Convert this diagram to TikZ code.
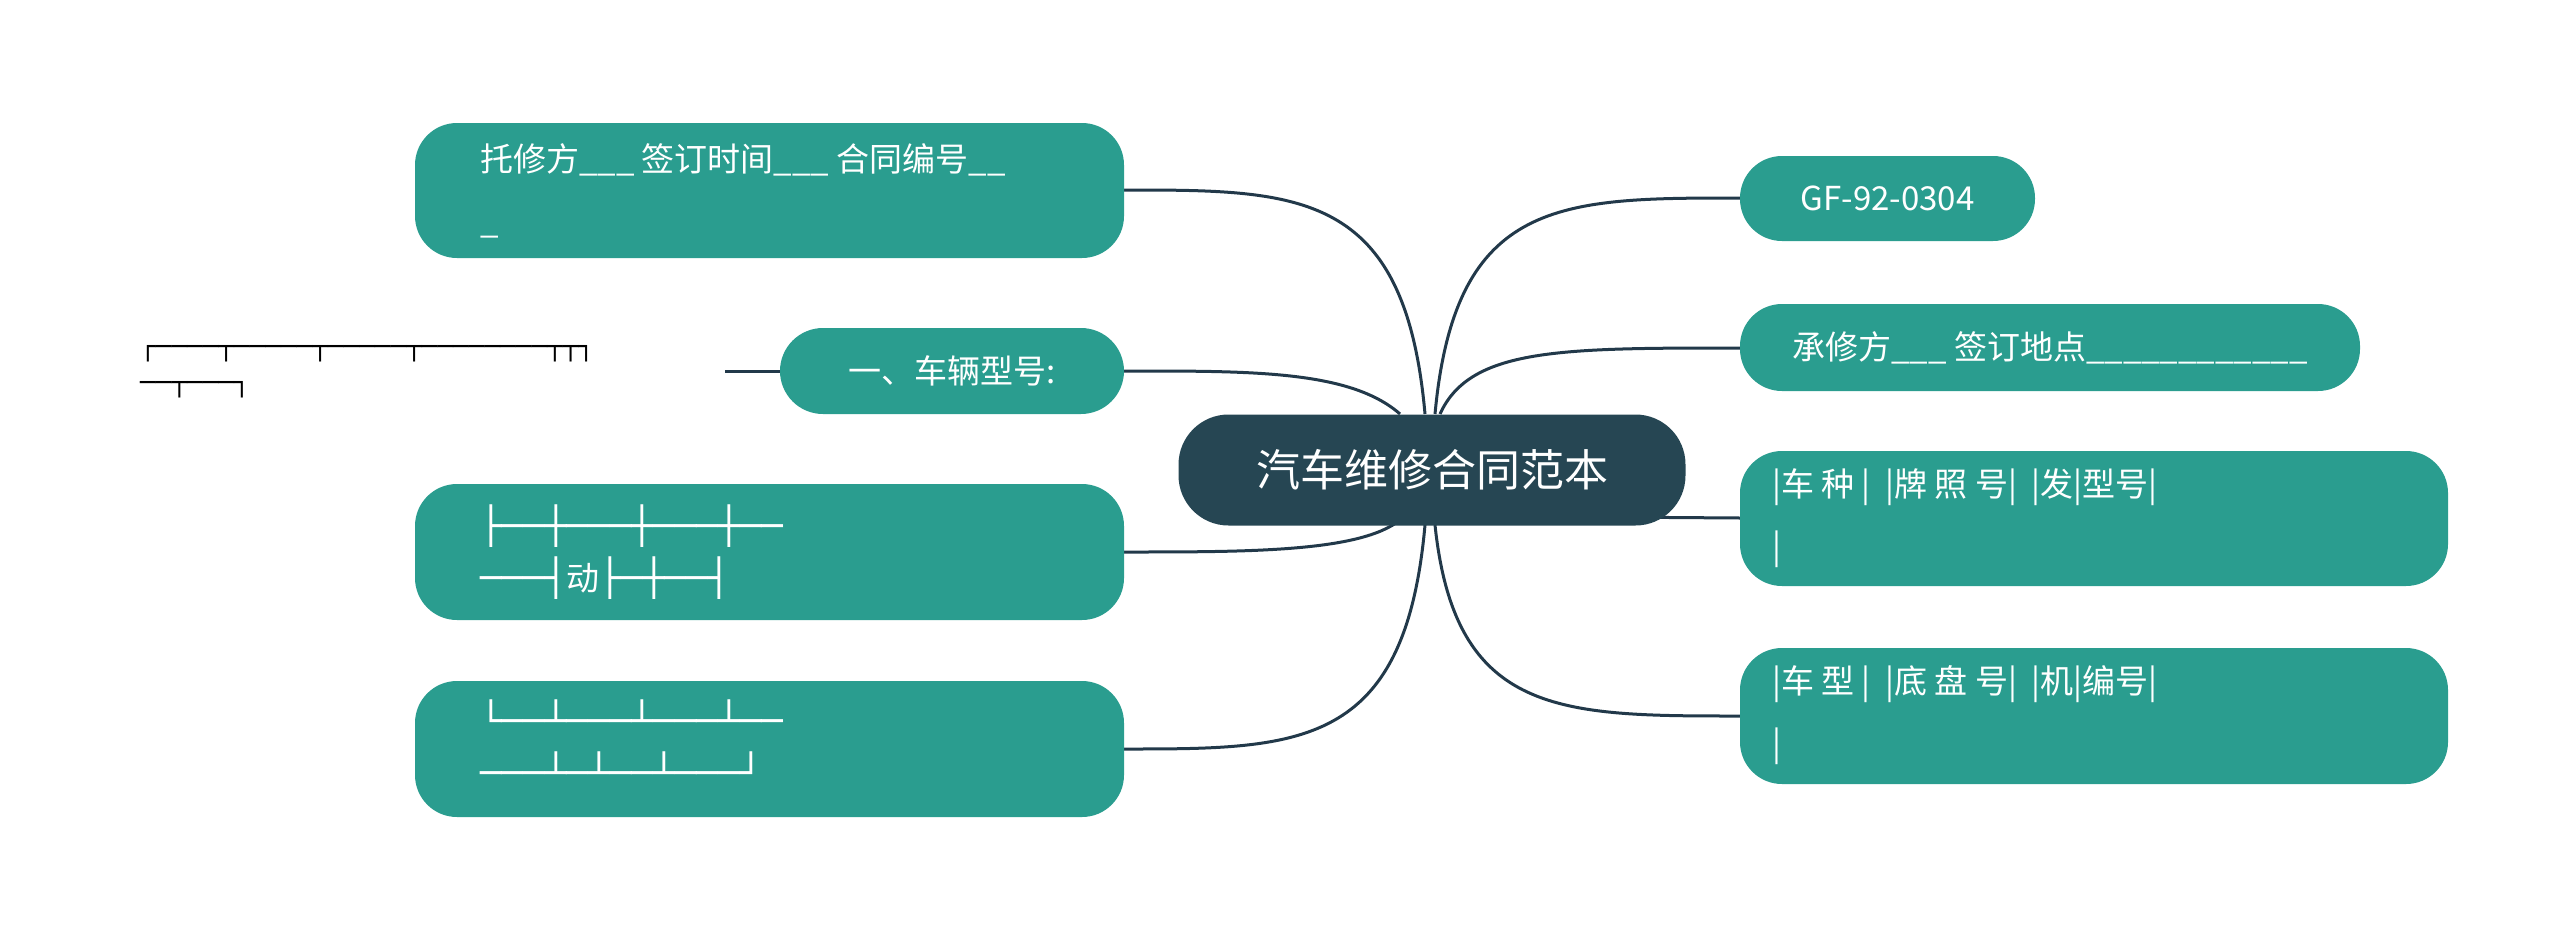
\documentclass[tikz,border=0pt]{standalone}
\usepackage{fontspec}
\setmainfont{Noto Sans CJK SC}
\newfontfamily\boxfont{DejaVu Sans Mono}
\definecolor{teal}{HTML}{2A9D8F}
\definecolor{dark}{HTML}{264653}
\definecolor{wire}{HTML}{22394A}
\begin{document}
\begin{tikzpicture}[x=1pt,y=-1pt,
  topic/.style={fill=teal,rounded corners=42pt,inner sep=0pt},
  lbl/.style={text=white,font=\fontsize{33}{62}\selectfont,align=left,anchor=north west,inner sep=0pt},
  wirel/.style={draw=wire,line width=3pt}]
\useasboundingbox (0,0) rectangle (2560,935);
% connectors
\coordinate (c) at (1430,470);
\draw[wirel] (1425,414) .. controls (1405,190) and (1300,190) .. (1124,190);
\draw[wirel] (1400,414) .. controls (1350,370) and (1250,371) .. (1124,371);
\draw[wirel] (1400,520) .. controls (1360,552) and (1250,552) .. (1124,552);
\draw[wirel] (1425,525) .. controls (1405,749) and (1300,749) .. (1124,749);
\draw[wirel] (1435,414) .. controls (1455,198) and (1560,198) .. (1740,198);
\draw[wirel] (1440,414) .. controls (1470,348) and (1560,348) .. (1740,348);
\draw[wirel] (1600,517) -- (1740,518);
\draw[wirel] (1435,525) .. controls (1455,716) and (1560,716) .. (1740,716);
% center
\node[fill=dark,rounded corners=50pt,minimum width=507pt,minimum height=111pt,text=white,font=\fontsize{44}{50}\selectfont] (ctr) at (1432,470) {汽车维修合同范本};
% left
\node[topic,minimum width=709pt,minimum height=135pt] (l1) at (769.5,190.5) {};
\node[lbl] (l1t) at (480,143) {托修方\_\_\_ 签订时间\_\_\_ 合同编号\_\_\\\_};
\node[topic,minimum width=344pt,minimum height=86pt,text=white,font=\fontsize{33}{40}\selectfont,rounded corners=43pt] (l2) at (952,371) {一、车辆型号:};
\node[topic,minimum width=709pt,minimum height=136pt] (l3) at (769.5,552) {};
\node[lbl,font=\fontsize{33}{52}\selectfont] (l3t) at (480,505) {{\boxfont\fontsize{36}{40}\selectfont ├──┼───┼───┼──}\\{\boxfont\fontsize{36}{40}\selectfont ───┤}动{\boxfont\fontsize{36}{40}\selectfont ├─┼──┤}};
\node[topic,minimum width=709pt,minimum height=136pt] (l4) at (769.5,749) {};
\node[lbl,font=\fontsize{33}{52}\selectfont] (l4t) at (480,700) {{\boxfont\fontsize{36}{52}\selectfont └──┴───┴───┴──}\\{\boxfont\fontsize{36}{52}\selectfont ───┴─┴──┴───┘}};
% floating text
\node[anchor=north west,inner sep=0pt,align=left,text=black,font=\boxfont\fontsize{26}{36}\selectfont] (fl) at (140,345) {┌────┬─────┬─────┬────────┬┬┐\\──┬───┐};
\draw[wirel] (725,371) -- (l2.west);
% right
\node[topic,minimum width=295pt,minimum height=85pt,text=white,font=\fontsize{33}{40}\selectfont] (r1) at (1887.5,198.5) {GF-92-0304};
\node[topic,minimum width=620pt,minimum height=87pt,text=white,font=\fontsize{33}{40}\selectfont] (r2) at (2050,347.5) {承修方\_\_\_ 签订地点\_\_\_\_\_\_\_\_\_\_\_\_};
\node[topic,minimum width=708pt,minimum height=135pt] (r3) at (2094,518.5) {};
\node[lbl] (r3t) at (1772,468) {|车 种 |\ \ |牌 照 号|\ \ |发|型号|\\|};
\node[topic,minimum width=708pt,minimum height=136pt] (r4) at (2094,716) {};
\node[lbl] (r4t) at (1772,665) {|车 型 |\ \ |底 盘 号|\ \ |机|编号|\\|};
\end{tikzpicture}
\end{document}
